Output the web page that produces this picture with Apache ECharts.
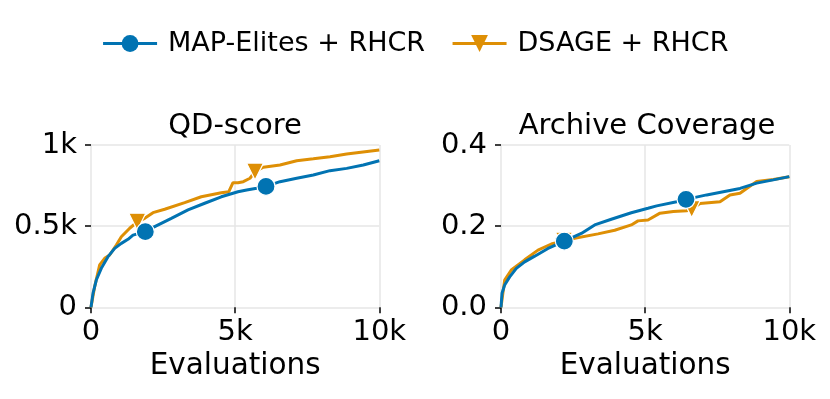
<!DOCTYPE html>
<html>
<head>
<meta charset="utf-8">
<script src="https://cdn.jsdelivr.net/npm/echarts@6/dist/echarts.min.js"></script>
<style>
html,body{margin:0;padding:0;background:#fff;}
#chart{width:830px;height:399px;}
</style>
</head>
<body>
<div id="chart"></div>
<script>
// ---- data ----
const seriesNames = ['MAP-Elites + RHCR', 'DSAGE + RHCR'];
const panelTitles = ['QD-score', 'Archive Coverage'];
const xAxisName = 'Evaluations';

const xTickValues = [0, 5000, 10000];
const xTickLabels = ['0', '5k', '10k'];
const qdTickValues = [0, 500, 1000];
const qdTickLabels = ['0', '0.5k', '1k'];
const covTickValues = [0, 0.2, 0.4];
const covTickLabels = ['0.0', '0.2', '0.4'];

// QD-score
const qdBlueX = [0, 69, 184, 357, 590, 822, 1052, 1283, 1457, 1884, 2209, 2786, 3365, 3944, 4520, 5099, 5401, 5747, 6070, 6556, 7135, 7711, 8290, 8869, 9445, 10000];
const qdBlueY = [0, 86, 168, 240, 312, 363, 394, 419, 445, 466, 497, 548, 600, 641, 681, 712, 723, 733, 745, 774, 795, 815, 842, 856, 877, 903];
const qdBlueMarkers = [9, 18];

const qdOrangeX = [0, 127, 301, 474, 648, 879, 1052, 1342, 1606, 1862, 2150, 2556, 3250, 3826, 4520, 4780, 4925, 5099, 5283, 5515, 5689, 5977, 6556, 7135, 7711, 8290, 8869, 10000];
const qdOrangeY = [0, 127, 261, 302, 322, 384, 435, 487, 527, 548, 583, 604, 645, 681, 706, 712, 768, 768, 774, 795, 836, 863, 877, 903, 915, 928, 944, 969];
const qdOrangeMarkers = [8, 20];

// Archive coverage
const covBlueX = [0, 35, 127, 301, 532, 821, 1169, 1630, 2196, 2786, 3250, 3826, 4520, 5099, 5401, 6094, 6417, 7135, 7711, 8290, 8869, 9445, 10000];
const covBlueY = [0, 0.0345, 0.055, 0.075, 0.096, 0.112, 0.126, 0.145, 0.163, 0.182, 0.203, 0.217, 0.233, 0.244, 0.250, 0.260, 0.266, 0.277, 0.285, 0.293, 0.306, 0.314, 0.322];
const covBlueMarkers = [8, 16];

const covOrangeX = [0, 127, 357, 821, 1283, 1745, 2185, 2556, 3365, 3944, 4520, 4752, 5099, 5515, 5977, 6441, 6615, 6903, 7597, 7943, 8290, 8522, 8869, 9445, 10000];
const covOrangeY = [0, 0.067, 0.092, 0.117, 0.141, 0.156, 0.164, 0.170, 0.181, 0.190, 0.203, 0.213, 0.215, 0.232, 0.236, 0.238, 0.242, 0.256, 0.260, 0.277, 0.281, 0.293, 0.310, 0.315, 0.322];
const covOrangeMarkers = [6, 16];

// ---- styling ----
const BLUE = '#0173b2';
const ORANGE = '#de8f05';
const FONT = 'DejaVu Sans';

function build(xs, ys, markers) {
  return xs.map((x, i) => markers.indexOf(i) >= 0 ? { value: [x, ys[i]] } : { value: [x, ys[i]], symbol: 'none' });
}
function fmt(values, labels) {
  return function (v) {
    const i = values.findIndex(t => Math.abs(t - v) < 1e-9);
    return i >= 0 ? labels[i] : '';
  };
}
function xAxisCfg(gi) {
  return {
    type: 'value', gridIndex: gi, min: 0, max: 10000, interval: 5000,
    name: xAxisName, nameLocation: 'middle', nameGap: 44,
    nameTextStyle: { fontSize: 29.5, fontFamily: FONT, color: '#000' },
    axisLine: { show: false },
    axisTick: { show: true, length: 6, lineStyle: { color: '#000', width: 1.5 } },
    axisLabel: { fontSize: 29, fontFamily: FONT, color: '#000', margin: 11, formatter: fmt(xTickValues, xTickLabels) },
    splitLine: { show: true, lineStyle: { color: '#e6e6e6', width: 1.5 } }
  };
}
function yAxisCfg(gi, max, interval, vals, labs) {
  return {
    type: 'value', gridIndex: gi, min: 0, max: max, interval: interval,
    axisLine: { show: false },
    axisTick: { show: true, length: 6, lineStyle: { color: '#000', width: 1.5 } },
    axisLabel: { fontSize: 29, fontFamily: FONT, color: '#000', margin: 14, formatter: fmt(vals, labs) },
    splitLine: { show: true, lineStyle: { color: '#e6e6e6', width: 1.5 } }
  };
}
function lineSeries(name, color, symbol, gi, xs, ys, markers, z) {
  return {
    name: name, type: 'line', xAxisIndex: gi, yAxisIndex: gi,
    data: build(xs, ys, markers),
    symbol: symbol, symbolSize: symbol === 'circle' ? 18 : 17,
    symbolRotate: symbol === 'triangle' ? 180 : 0,
    showSymbol: true, showAllSymbol: true,
    lineStyle: { color: color, width: 3 },
    itemStyle: { color: color, borderColor: '#fff', borderWidth: 1.2 },
    z: z, animation: false, silent: true
  };
}

const titleStyle = { fontSize: 29, fontWeight: 'normal', fontFamily: FONT, color: '#000' };

const chart = echarts.init(document.getElementById('chart'), null, { renderer: 'canvas' });
chart.setOption({
  backgroundColor: '#fff',
  animation: false,
  textStyle: { fontFamily: FONT },
  title: [
    { text: panelTitles[0], left: 235, top: 112, padding: 0, textAlign: 'center', textStyle: titleStyle },
    { text: panelTitles[1], left: 647, top: 112, padding: 0, textAlign: 'center', textStyle: titleStyle }
  ],
  legend: {
    data: seriesNames, top: 25, left: 'center',
    itemWidth: 54, itemHeight: 21, itemGap: 26,
    lineStyle: { width: 3 },
    itemStyle: { borderWidth: 0 },
    textStyle: { fontSize: 27, fontFamily: FONT, color: '#000', padding: [0, 0, 0, 6] }
  },
  grid: [
    { left: 91, top: 145, width: 288.3, height: 162.3 },
    { left: 501, top: 145, width: 288.3, height: 162.3 }
  ],
  xAxis: [xAxisCfg(0), xAxisCfg(1)],
  yAxis: [
    yAxisCfg(0, 1000, 500, qdTickValues, qdTickLabels),
    yAxisCfg(1, 0.4, 0.2, covTickValues, covTickLabels)
  ],
  series: [
    lineSeries(seriesNames[1], ORANGE, 'triangle', 0, qdOrangeX, qdOrangeY, qdOrangeMarkers, 2),
    lineSeries(seriesNames[0], BLUE, 'circle', 0, qdBlueX, qdBlueY, qdBlueMarkers, 3),
    lineSeries(seriesNames[1], ORANGE, 'triangle', 1, covOrangeX, covOrangeY, covOrangeMarkers, 2),
    lineSeries(seriesNames[0], BLUE, 'circle', 1, covBlueX, covBlueY, covBlueMarkers, 3)
  ]
});
</script>
</body>
</html>
